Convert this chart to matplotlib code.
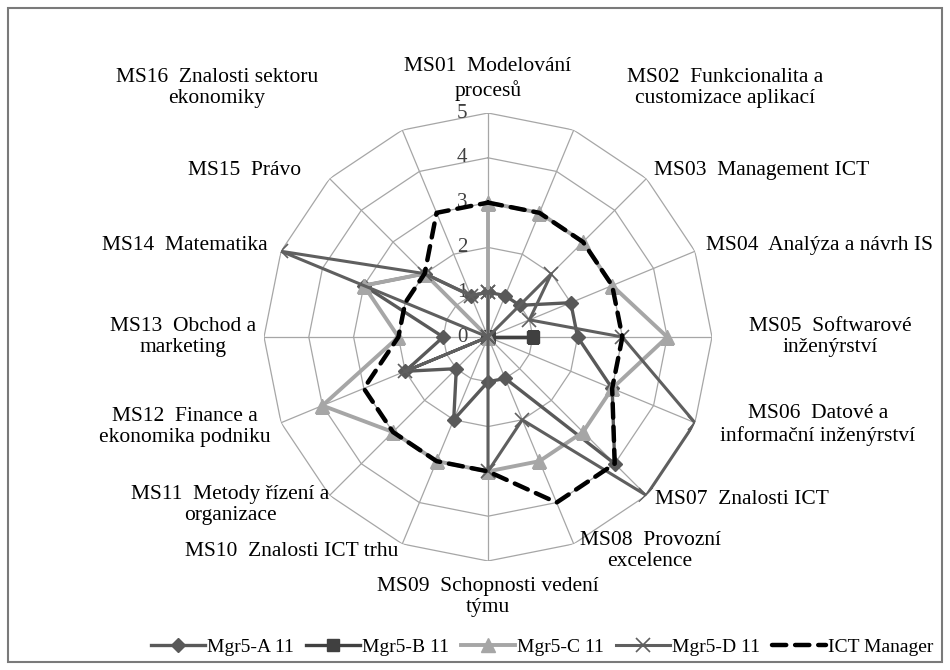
import numpy as np
import matplotlib.pyplot as plt
from matplotlib.patches import Rectangle

plt.rcParams['font.family'] = ['Liberation Serif', 'DejaVu Serif']

# Kategorie (osy radaru), od MS01 nahore po smeru hodinovych rucicek
KATEGORIE = [
    "MS01  Modelování\nprocesů",
    "MS02  Funkcionalita a\ncustomizace aplikací",
    "MS03  Management ICT",
    "MS04  Analýza a návrh IS",
    "MS05  Softwarové\ninženýrství",
    "MS06  Datové a\ninformační inženýrství",
    "MS07  Znalosti ICT",
    "MS08  Provozní\nexcelence",
    "MS09  Schopnosti vedení\ntýmu",
    "MS10  Znalosti ICT trhu",
    "MS11  Metody řízení a\norganizace",
    "MS12  Finance a\nekonomika podniku",
    "MS13  Obchod a\nmarketing",
    "MS14  Matematika",
    "MS15  Právo",
    "MS16  Znalosti sektoru\nekonomiky",
]

MGR_A = [1, 1, 1, 2, 2, 3, 4, 1, 1, 2, 1, 2, 1, 3, 2, 1]
MGR_B = [0, 0, 0, 0, 1, 0, 0, 0, 0, 0, 0, 0, 0, 0, 0, 0]
MGR_C = [3, 3, 3, 3, 4, 3, 3, 3, 3, 3, 3, 4, 2, 3, 2, 0]
MGR_D = [1, 0, 2, 1, 3, 5, 5, 2, 3, 0, 0, 2, 0, 5, 2, 1]
ICT_MANAGER = [3, 3, 3, 3, 3, 3, 4, 4, 3, 3, 3, 3, 2, 2, 2, 3]

NAZVY = ["Mgr5-A 11", "Mgr5-B 11", "Mgr5-C 11", "Mgr5-D 11", "ICT Manager"]
STUPNICE = [0, 1, 2, 3, 4, 5]

# stred popisku v pixelech (x, y od horniho okraje)
POZICE_POPISKU = [
    (488, 79), (725, 88), (762, 170), (820, 245), (830, 337), (818, 425),
    (742, 500), (650, 551), (488, 597), (292, 551), (230, 505), (185, 427),
    (183, 337), (185, 245), (245, 170), (217, 88),
]

W, H = 950, 670
fig = plt.figure(figsize=(W / 100, H / 100), dpi=100)

cx, cy, rad = 488, 337, 224
ax = fig.add_axes([(cx - rad) / W, (H - cy - rad) / H, 2 * rad / W, 2 * rad / H],
                  projection='polar')
ax.set_theta_zero_location('N')
ax.set_theta_direction(-1)
ax.set_ylim(0, 5)
ax.grid(False)
ax.spines['polar'].set_visible(False)
ax.set_xticks([])
ax.set_yticks([])
ax.patch.set_alpha(0)

n = len(KATEGORIE)
uhly = np.linspace(0, 2 * np.pi, n, endpoint=False)
uhly_z = np.append(uhly, uhly[0])

# polygonova mrizka a paprsky
for r in STUPNICE[1:]:
    ax.plot(uhly_z, [r] * (n + 1), color='#a6a6a6', lw=0.9, zorder=1)
for u in uhly:
    ax.plot([u, u], [0, STUPNICE[-1]], color='#a6a6a6', lw=0.9, zorder=1)

for r in STUPNICE:
    ax.annotate(str(r), xy=(0, r), xytext=(-15, 0), textcoords='offset points',
                ha='right', va='center', fontsize=15, color='#404040')


def zavri(hodnoty):
    return list(hodnoty) + [hodnoty[0]]


ax.plot(uhly_z, zavri(MGR_A), color='#595959', lw=2.4, marker='D', ms=7, label=NAZVY[0], zorder=3)
ax.plot(uhly_z, zavri(MGR_B), color='#404040', lw=2.4, marker='s', ms=9, label=NAZVY[1], zorder=3)
ax.plot(uhly_z, zavri(MGR_C), color='#a6a6a6', lw=2.8, marker='^', ms=10, label=NAZVY[2], zorder=3)
ax.plot(uhly_z, zavri(MGR_D), color='#5f5f5f', lw=2.2, marker='x', ms=10, mew=1.2, label=NAZVY[3], zorder=3)
ax.plot(uhly_z, zavri(ICT_MANAGER), color='black', lw=3.2, ls=(0, (3.2, 2.0)),
        dash_capstyle='round', label=NAZVY[4], zorder=4)

for text, (px, py) in zip(KATEGORIE, POZICE_POPISKU):
    fig.text(px / W, 1 - py / H, text, ha='center', va='center',
             multialignment='center', fontsize=15.5, linespacing=1.2)

fig.legend(loc='center', bbox_to_anchor=(542 / W, 1 - 647 / H), ncol=5, frameon=False,
           fontsize=14, handlelength=2.8, handletextpad=0.1, columnspacing=0.6)

fig.patches.append(Rectangle((8 / W, 8 / H), 1 - 16 / W, 1 - 16 / H, transform=fig.transFigure,
                             fill=False, edgecolor='#7a7a7a', lw=1.5))

fig.savefig('out.png', dpi=100)
